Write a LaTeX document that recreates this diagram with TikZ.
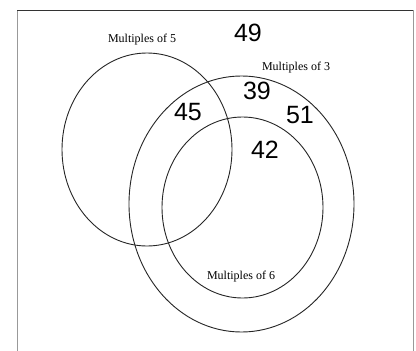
\documentclass[tikz,border=0pt]{standalone}
\usepackage{fontspec}
\setmainfont{Liberation Serif}
\newfontfamily\numfont{Liberation Sans}
\begin{document}
\begin{tikzpicture}[x=1pt,y=-1pt,
  setcurve/.style={draw=black!85, line width=0.9pt},
  setlabel/.style={font=\fontsize{12}{12}\selectfont, inner sep=0pt},
  numlabel/.style={font=\numfont\fontsize{25}{25}\selectfont, inner sep=0pt}]
\useasboundingbox (0,0) rectangle (416,351);
\fill[white] (0,0) rectangle (416,351);
% frame
\draw[black!40, line width=0.8pt] (17,10) -- (17,351);
\draw[black!40, line width=0.8pt] (413,10) -- (413,351);
\draw[black!80, line width=1pt] (17,10) -- (413,10);
% sets
\draw[setcurve] (147,149.5) ellipse [x radius=85, y radius=96.5];
\draw[setcurve] (241.5,204) ellipse [x radius=112.5, y radius=128];
\draw[setcurve] (242.5,207.5) ellipse [x radius=80.5, y radius=90.5];
% labels
\node[setlabel] (l5) at (142,40) {Multiples of 5};
\node[setlabel] (l3) at (296,68) {Multiples of 3};
\node[setlabel] (l6) at (241,277) {Multiples of 6};
\node[numlabel] (n49) at (248,33) {49};
\node[numlabel] (n39) at (257,91) {39};
\node[numlabel] (n45) at (188,112) {45};
\node[numlabel] (n51) at (300,115) {51};
\node[numlabel] (n42) at (265,150) {42};
\end{tikzpicture}
\end{document}
